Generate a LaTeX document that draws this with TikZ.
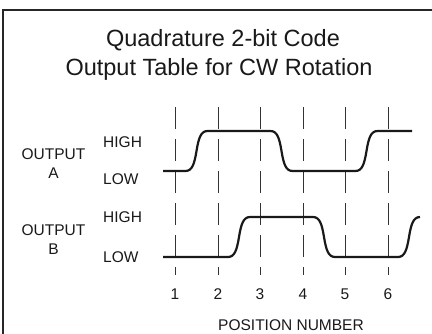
\documentclass[tikz,border=0pt]{standalone}
\usepackage{fontspec}
\setmainfont{Liberation Sans}
\begin{document}
\begin{tikzpicture}[x=1pt,y=-1pt,
  frame/.style={line width=1.3pt, draw=black!85},
  gridline/.style={line width=0.9pt, draw=black!80, dash pattern=on 22pt off 10pt},
  signal/.style={line width=2.2pt, draw=black!90, line join=round},
  lbl/.style={font=\fontsize{15.5}{19}\selectfont, text=black!90, inner sep=0pt, align=center},
  ttl/.style={font=\fontsize{23.5}{28}\selectfont, text=black!90, inner sep=0pt}]
\useasboundingbox (0,0) rectangle (432,333);
\clip (0,0) rectangle (432,333);
\fill[white] (0,0) rectangle (432,333);
% frame
\coordinate (fbl) at (3,345);
\coordinate (ftl) at (3,10);
\coordinate (ftr) at (445,10);
\draw[frame] (fbl) -- (ftl) -- (ftr);
% title
\node[ttl, anchor=base] (title1) at (223,46) {Quadrature 2-bit Code};
\node[ttl, anchor=base] (title2) at (219,75) {Output Table for CW Rotation};
% position grid
\foreach \i/\x in {1/175,2/218,3/260,4/303,5/345,6/388}{
  \coordinate (t\i) at (\x,107);
  \coordinate (b\i) at (\x,275);
  \draw[gridline] (t\i) -- (b\i);
  \node[lbl] (n\i) at (\x,294) {\i};
}
\node[lbl] (posnum) at (291,325) {POSITION NUMBER};
% labels
\node[lbl] (outA) at (53.5,164) {OUTPUT\\A};
\node[lbl] (outB) at (53.5,240) {OUTPUT\\B};
\node[lbl, anchor=west] (highA) at (103,142) {HIGH};
\node[lbl, anchor=west] (lowA) at (103,179) {LOW};
\node[lbl, anchor=west] (highB) at (103,217.5) {HIGH};
\node[lbl, anchor=west] (lowB) at (103,257.5) {LOW};
% signal A
\draw[signal] (163,171) -- (185.5,171) .. controls (192.5,171) and (194.5,163) .. (196.5,151)
  .. controls (198.5,139) and (200.5,131) .. (207.5,131) -- (270.5,131)
  .. controls (277.5,131) and (279.5,139) .. (281.5,151)
  .. controls (283.5,163) and (285.5,171) .. (292.5,171) -- (355.5,171)
  .. controls (362.5,171) and (364.5,163) .. (366.5,151)
  .. controls (368.5,139) and (370.5,131) .. (377.5,131) -- (412,131);
% signal B
\draw[signal] (163,257) -- (228,257) .. controls (235,257) and (237,249) .. (239,237)
  .. controls (241,225) and (243,217) .. (250,217) -- (313,217)
  .. controls (320,217) and (322,225) .. (324,237)
  .. controls (326,249) and (328,257) .. (335,257) -- (398,257)
  .. controls (405,257) and (407,249) .. (409,237)
  .. controls (411,225) and (413,217) .. (420,217);
\end{tikzpicture}
\end{document}
